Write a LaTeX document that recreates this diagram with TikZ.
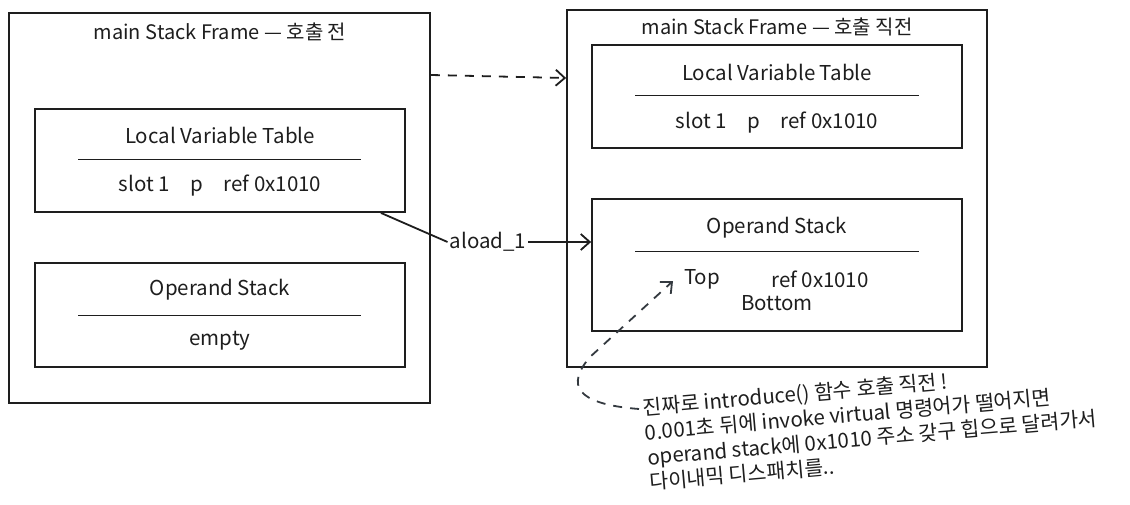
\documentclass[tikz,border=0pt]{standalone}
\usepackage{fontspec}
\setmainfont{Noto Sans CJK KR}
\usetikzlibrary{arrows.meta}
\definecolor{ink}{HTML}{1E1E1E}
\definecolor{note}{HTML}{343A40}
\begin{document}
\begin{tikzpicture}[x=1pt,y=-1pt,
  box/.style={draw=ink, line width=1.8pt, rectangle, inner sep=0pt},
  sep/.style={draw=ink, line width=1pt},
  lbl/.style={text=ink, inner sep=1pt, font=\fontsize{20.5}{24}\selectfont},
  ttl/.style={text=ink, inner sep=1pt, font=\fontsize{20}{24}\selectfont},
  conn/.style={draw=ink, line width=1.8pt},
  tip/.style={-{Straight Barb[length=9pt,width=16pt,line width=1.8pt]}},
  dconn/.style={draw=ink, line width=1.8pt, dash pattern=on 9pt off 8pt},
  nconn/.style={draw=note, line width=1.8pt, dash pattern=on 9pt off 8pt}
]
\useasboundingbox (0,0) rectangle (1130,505);
\fill[white] (0,0) rectangle (1130,505);

% left frame
\node[box, minimum width=421pt, minimum height=390pt] (lf) at (219.5,208) {};
\node[ttl] (lft) at (220,32) {main Stack Frame — 호출 전};
\node[box, minimum width=370pt, minimum height=103pt] (llv) at (220,160.5) {};
\node[lbl] (llvt) at (220,135) {Local Variable Table};
\draw[sep] (78,160) -- (361,160);
\node[lbl] (llvs) at (220,186) {slot 1\quad p\quad ref 0x1010};
\node[box, minimum width=370pt, minimum height=104pt] (los) at (220,315) {};
\node[lbl] (lost) at (220,290) {Operand Stack};
\draw[sep] (78,315) -- (361,315);
\node[lbl] (lose) at (220,341) {empty};

% right frame
\node[box, minimum width=420pt, minimum height=357pt] (rf) at (777,188.5) {};
\node[ttl] (rft) at (777,27) {main Stack Frame — 호출 직전};
\node[box, minimum width=370pt, minimum height=103pt] (rlv) at (777,96.5) {};
\node[lbl] (rlvt) at (777,72) {Local Variable Table};
\draw[sep] (635,96) -- (919,96);
\node[lbl] (rlvs) at (777,123) {slot 1\quad p\quad ref 0x1010};
\node[box, minimum width=370pt, minimum height=132pt] (ros) at (777,265) {};
\node[lbl] (rost) at (777,228) {Operand Stack};
\draw[sep] (635,252) -- (919,252);
\node[lbl] (top) at (702,279) {Top};
\node[lbl] (tref) at (820,279) {ref 0x1010};
\node[lbl] (bot) at (777,303) {Bottom};

% connectors
\draw[dconn, tip] (lf.east |- 0,75) -- (rf.west |- 0,78);
\node[lbl, fill=white, inner sep=2pt] (ald) at (488,242) {aload\_1};
\draw[conn] ([xshift=-25pt]llv.south east) .. controls (420,230) .. (ald.west);
\draw[conn, tip] (ald.east) -- (ros.west |- ald.east);

% note
\node[text=ink, rotate=5, anchor=north west, align=left, inner sep=0pt,
  font=\fontsize{20.5}{25}\selectfont] (nt) at (642,398)
  {진짜로 introduce() 함수 호출 직전 !\\
   0.001초 뒤에 invoke virtual 명령어가 떨어지면\\
   operand stack에 0x1010 주소 갖구 힙으로 달려가서\\
   다이내믹 디스패치를..};
\coordinate (ns) at ([xshift=-3pt, yshift=-11pt]nt.north west);
\draw[nconn, tip] (ns) .. controls (575,404) and (566,385) .. (590,357) -- (673,281);
\end{tikzpicture}
\end{document}
